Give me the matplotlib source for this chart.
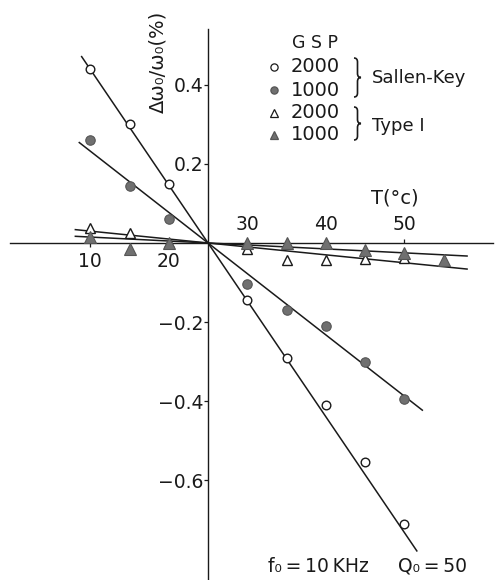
import numpy as np
import matplotlib
matplotlib.use("Agg")
import matplotlib.pyplot as plt
from matplotlib.path import Path
from matplotlib.patches import PathPatch

plt.rcParams['font.family'] = ['DejaVu Sans']

# ---- measured drift of the centre frequency, Δω0/ω0 in % ----
temps = [10, 15, 20, 30, 35, 40, 45, 50]
sallen_key_2000 = [0.44, 0.30, 0.15, -0.145, -0.29, -0.41, -0.555, -0.71]
sallen_key_1000 = [0.26, 0.145, 0.06, -0.105, -0.17, -0.21, -0.30, -0.395]

type1_2000_temps = [10, 15, 20, 30, 35, 40, 45, 50]
type1_2000 = [0.038, 0.025, 0.0, -0.015, -0.043, -0.043, -0.040, -0.038]
type1_1000_temps = [10, 15, 20, 30, 35, 40, 45, 50, 55]
type1_1000 = [0.015, -0.015, 0.0, 0.0, 0.0, 0.0, -0.018, -0.025, -0.043]

# straight-line fits through the reference point (25 °C, 0 %)
ref_temp = 25
fit_slopes = {"sk2000": -0.0293, "sk1000": -0.0155, "t2000": -0.0020, "t1000": -0.0010}
fit_spans = {"sk2000": (8.9, 51.6), "sk1000": (8.6, 52.3), "t2000": (8.1, 58.0), "t1000": (8.1, 58.0)}

x_ticks = [10, 20, 30, 40, 50]
y_ticks = [0.4, 0.2, -0.2, -0.4, -0.6]
y_tick_labels = ["0.4", "0.2", "\u22120.2", "\u22120.4", "\u22120.6"]

W, H = 498, 580
fig = plt.figure(figsize=(W / 100, H / 100), dpi=100)
ax = fig.add_axes([0, 0, 1, 1])
ax.set_xlim(-1.5, 61.94)
ax.set_ylim(-0.853, 0.615)

ink = "#1a1a1a"
grey = "#707070"

# axes crossing at (25 °C, 0)
ax.spines['left'].set_position(('data', ref_temp))
ax.spines['bottom'].set_position(('data', 0))
ax.spines['top'].set_position(('data', 0))
ax.spines['left'].set_bounds(-0.853, 0.542)
ax.spines['bottom'].set_bounds(-0.22, 61.3)
ax.spines['top'].set_visible(False)
ax.spines['right'].set_visible(False)
for s in ('left', 'bottom'):
    ax.spines[s].set_color(ink)
    ax.spines[s].set_linewidth(1.0)

ax.set_xticks(x_ticks)
ax.set_xticklabels([str(t) for t in x_ticks])
ax.tick_params(axis='x', bottom=True, top=True, labelbottom=True, labeltop=True,
               direction='out', length=3, width=0.9, pad=3.5, labelsize=13.5, colors=ink)
for tick, val in zip(ax.xaxis.get_major_ticks(), x_ticks):
    below = val < ref_temp
    tick.tick1line.set_visible(below)
    tick.label1.set_visible(below)
    tick.tick2line.set_visible(not below)
    tick.label2.set_visible(not below)

ax.set_yticks(y_ticks)
ax.set_yticklabels(y_tick_labels)
ax.tick_params(axis='y', left=True, right=False, direction='out', length=3,
               width=0.9, pad=0.5, labelsize=13.5, colors=ink)

# fitted lines
def fit_line(key):
    t = np.array(fit_spans[key])
    return t, fit_slopes[key] * (t - ref_temp)

for key in ("sk2000", "sk1000", "t2000", "t1000"):
    t, v = fit_line(key)
    ax.plot(t, v, color=ink, lw=1.1, zorder=2)

ms = 6.2
ax.plot(temps, sallen_key_2000, 'o', ms=ms, mfc='white', mec=ink, mew=1.0, zorder=4)
ax.plot(temps, sallen_key_1000, 'o', ms=ms + 0.6, mfc=grey, mec="#555555", mew=0.8, zorder=4)
ax.plot(type1_2000_temps, type1_2000, '^', ms=ms + 1.2, mfc='white', mec=ink, mew=1.0, zorder=3)
ax.plot(type1_1000_temps, type1_1000, '^', ms=ms + 1.8, mfc=grey, mec="#555555", mew=0.8, zorder=4)

def px(x, y):
    return x / W, 1 - y / H

tk = dict(transform=ax.transAxes, color=ink)

# axis titles
ax.text(*px(158, 62), "\u0394\u03c9\u2080/\u03c9\u2080(%)", rotation=90, ha='center', va='center',
        fontsize=14, **tk)
ax.text(*px(395, 198), "T(\u00b0c)", ha='center', va='center', fontsize=14, **tk)

# key
ax.text(*px(315, 43), "G S P", ha='center', va='center', fontsize=12.5, **tk)
key_rows = [(67, 'o', 'white', "2000"), (90, 'o', grey, "1000"),
            (113, '^', 'white', "2000"), (135, '^', grey, "1000")]
for y, m, fc, lab in key_rows:
    kx, ky = px(274, y)
    ax.plot([kx], [ky], m, transform=ax.transAxes, ms=5.2 if m == 'o' else 6,
            mfc=fc, mec=ink if fc == 'white' else "#555555", mew=0.9, clip_on=False)
    ax.text(*px(291, y), lab, ha='left', va='center', fontsize=14, **tk)


def brace(x0, top, bottom):
    """Thin right-facing curly brace between two heights (pixel units)."""
    mid = (top + bottom) / 2
    xs, xm, xt = x0, x0 + 3.5, x0 + 7
    pts = [(xs, top), (xm, top), (xm, top + 4),
           (xm, mid - 4),
           (xm, mid), (xt, mid),
           (xm, mid), (xm, mid + 4),
           (xm, bottom - 4),
           (xm, bottom), (xs, bottom)]
    codes = [Path.MOVETO, Path.CURVE3, Path.CURVE3,
             Path.LINETO,
             Path.CURVE3, Path.CURVE3,
             Path.CURVE3, Path.CURVE3,
             Path.LINETO,
             Path.CURVE3, Path.CURVE3]
    verts = [px(a, b) for a, b in pts]
    ax.add_patch(PathPatch(Path(verts, codes), fill=False, lw=1.2, ec=ink,
                           transform=ax.transAxes, clip_on=False))


brace(354, 58, 97)
brace(354, 107, 140)
ax.text(*px(372, 78), "Sallen-Key", ha='left', va='center', fontsize=13, **tk)
ax.text(*px(372, 126), "Type \u2160", ha='left', va='center', fontsize=13, **tk)

# test conditions
ax.text(*px(268, 566), "f\u2080\u2009=\u200910\u2009KHz", ha='left', va='center', fontsize=13.5, **tk)
ax.text(*px(398, 566), "Q\u2080\u2009=\u200950", ha='left', va='center', fontsize=13.5, **tk)

fig.savefig("out.png", dpi=100)
